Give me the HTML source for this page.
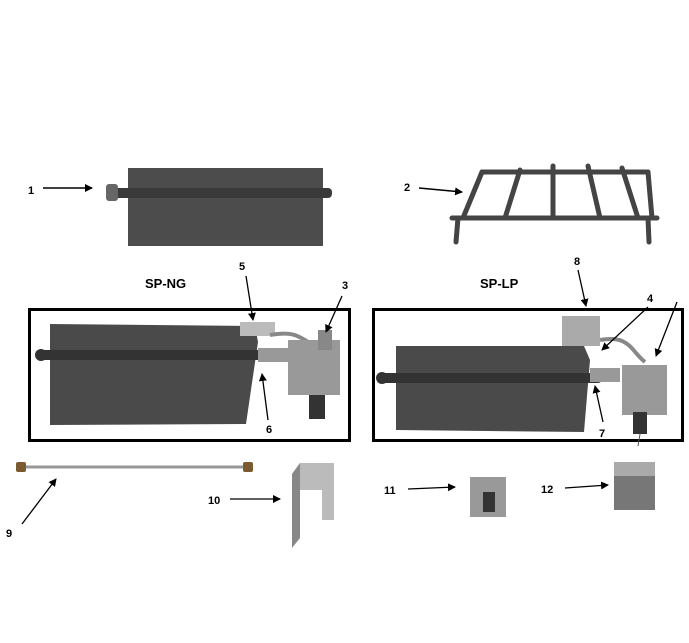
<!DOCTYPE html>
<html><head><style>
body{margin:0;background:#fff;}
svg{display:block;font-family:"Liberation Sans",Arial,sans-serif;font-weight:bold;}
</style></head><body>
<svg width="689" height="643" viewBox="0 0 689 643">
<defs><marker id="a" markerWidth="8" markerHeight="8" refX="7" refY="4" orient="auto" markerUnits="userSpaceOnUse"><path d="M0,0 L8,4 L0,8 Z" fill="#000"/></marker></defs>
<g font-size="11" fill="#000">
<!-- part 1 -->
<text x="28" y="194">1</text>
<line x1="43" y1="188" x2="92" y2="188" stroke="#000" stroke-width="1.5" marker-end="url(#a)"/>
<rect x="128" y="168" width="195" height="78" fill="#4c4c4c"/>
<rect x="110" y="188" width="222" height="10" rx="4" fill="#3a3a3a"/>
<rect x="106" y="184" width="12" height="17" rx="3" fill="#666"/>
<!-- part 2 grate -->
<text x="404" y="191">2</text>
<line x1="419" y1="188" x2="462" y2="192" stroke="#000" stroke-width="1.5" marker-end="url(#a)"/>
<g stroke="#444" stroke-width="5" stroke-linecap="round" fill="none">
<path d="M482,172 L648,172"/>
<path d="M452,218 L657,218"/>
<path d="M482,172 L463,218"/><path d="M648,172 L652,218"/>
<path d="M520,170 L505,218"/><path d="M553,166 L553,218"/><path d="M588,166 L600,218"/><path d="M622,168 L638,218"/>
<path d="M458,218 L456,242"/><path d="M648,218 L649,242"/>
</g>
<!-- titles -->
<text x="145" y="288" font-size="13">SP-NG</text>
<text x="480" y="288" font-size="13">SP-LP</text>
<!-- left box -->
<rect x="29.5" y="309.5" width="320" height="131" fill="#fff" stroke="#000" stroke-width="3"/>
<polygon points="50,324 255,326 258,342 246,424 50,425" fill="#4a4a4a"/>
<rect x="40" y="350" width="225" height="10" rx="4" fill="#333"/>
<circle cx="41" cy="355" r="6" fill="#333"/>
<rect x="240" y="322" width="35" height="14" fill="#bbb"/>
<rect x="258" y="348" width="30" height="14" fill="#999"/>
<path d="M270,335 C300,330 300,340 315,345" stroke="#888" stroke-width="4" fill="none"/>
<rect x="288" y="340" width="52" height="55" fill="#999"/>
<rect x="318" y="330" width="14" height="20" fill="#888"/>
<rect x="309" y="395" width="16" height="24" fill="#333"/>
<text x="239" y="270">5</text>
<line x1="246" y1="276" x2="253" y2="320" stroke="#000" stroke-width="1.3" marker-end="url(#a)"/>
<text x="342" y="289">3</text>
<line x1="342" y1="296" x2="326" y2="332" stroke="#000" stroke-width="1.3" marker-end="url(#a)"/>
<text x="266" y="433">6</text>
<line x1="268" y1="420" x2="262" y2="374" stroke="#000" stroke-width="1.3" marker-end="url(#a)"/>
<!-- right box -->
<rect x="373.5" y="309.5" width="309" height="131" fill="#fff" stroke="#000" stroke-width="3"/>
<polygon points="396,346 584,346 590,360 584,432 396,430" fill="#4a4a4a"/>
<rect x="380" y="373" width="222" height="10" rx="4" fill="#333"/>
<circle cx="382" cy="378" r="6" fill="#333"/>
<rect x="562" y="316" width="38" height="30" fill="#aaa"/>
<rect x="590" y="368" width="30" height="14" fill="#999"/>
<path d="M600,340 C630,335 630,350 645,362" stroke="#888" stroke-width="4" fill="none"/>
<rect x="622" y="365" width="45" height="50" fill="#999"/>
<rect x="633" y="412" width="14" height="22" fill="#333"/>
<text x="574" y="265">8</text>
<line x1="578" y1="270" x2="586" y2="306" stroke="#000" stroke-width="1.3" marker-end="url(#a)"/>
<text x="647" y="302">4</text>
<line x1="648" y1="307" x2="602" y2="350" stroke="#000" stroke-width="1.3" marker-end="url(#a)"/>
<line x1="677" y1="302" x2="656" y2="356" stroke="#000" stroke-width="1.3" marker-end="url(#a)"/>
<line x1="640" y1="434" x2="638" y2="446" stroke="#555" stroke-width="1"/>
<text x="599" y="437">7</text>
<line x1="603" y1="422" x2="595" y2="386" stroke="#000" stroke-width="1.3" marker-end="url(#a)"/>
<!-- bottom parts -->
<line x1="22" y1="467" x2="248" y2="467" stroke="#999" stroke-width="3"/>
<rect x="16" y="462" width="10" height="10" rx="2" fill="#7a5a30"/>
<rect x="243" y="462" width="10" height="10" rx="2" fill="#7a5a30"/>
<text x="6" y="537">9</text>
<line x1="22" y1="524" x2="56" y2="479" stroke="#000" stroke-width="1.3" marker-end="url(#a)"/>
<polygon points="292,474 300,463 334,463 334,520 322,520 322,490 292,490" fill="#bbb"/>
<polygon points="292,474 292,548 300,538 300,463" fill="#888"/>
<text x="208" y="504">10</text>
<line x1="230" y1="499" x2="280" y2="499" stroke="#000" stroke-width="1.3" marker-end="url(#a)"/>
<rect x="470" y="477" width="36" height="40" fill="#999"/>
<rect x="483" y="492" width="12" height="20" fill="#333"/>
<text x="384" y="494">11</text>
<line x1="408" y1="489" x2="455" y2="487" stroke="#000" stroke-width="1.3" marker-end="url(#a)"/>
<rect x="614" y="462" width="41" height="48" fill="#777"/>
<rect x="614" y="462" width="41" height="14" fill="#aaa"/>
<text x="541" y="493">12</text>
<line x1="565" y1="488" x2="608" y2="485" stroke="#000" stroke-width="1.3" marker-end="url(#a)"/>
</g>
</svg>
</body></html>
